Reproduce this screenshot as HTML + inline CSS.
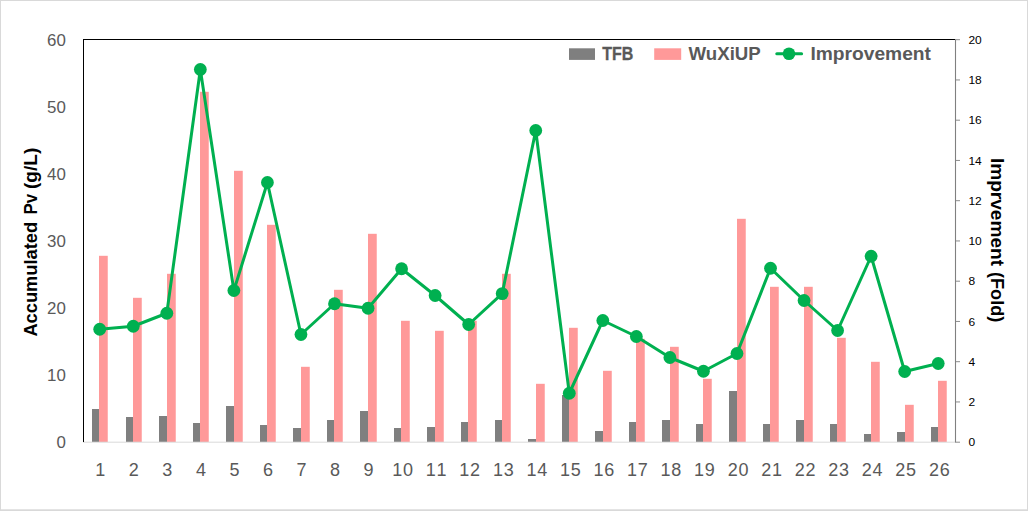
<!DOCTYPE html>
<html><head><meta charset="utf-8"><title>Chart</title>
<style>html,body{margin:0;padding:0;background:#fff;}body{width:1028px;height:511px;overflow:hidden;}svg{display:block;}text{font-family:"Liberation Sans",sans-serif;}</style></head><body>
<svg width="1028" height="511" viewBox="0 0 1028 511">
<rect x="0" y="0" width="1028" height="511" fill="#ffffff"/>
<rect x="0.5" y="0.5" width="1027" height="509.5" fill="none" stroke="#d9d9d9" stroke-width="1"/>
<rect x="0" y="509.6" width="1028" height="1.4" fill="#d9d9d9"/>
<rect x="92" y="409" width="7.5" height="33.0" fill="#7f7f7f"/>
<rect x="99" y="255.8" width="8.75" height="186.2" fill="#ff9999"/>
<rect x="126" y="417" width="7.5" height="25.0" fill="#7f7f7f"/>
<rect x="133" y="297.8" width="8.75" height="144.2" fill="#ff9999"/>
<rect x="159" y="416" width="8.5" height="26.0" fill="#7f7f7f"/>
<rect x="167" y="273.8" width="8.75" height="168.2" fill="#ff9999"/>
<rect x="193" y="423" width="7.5" height="19.0" fill="#7f7f7f"/>
<rect x="200" y="91.8" width="8.75" height="350.2" fill="#ff9999"/>
<rect x="226" y="406" width="8.5" height="36.0" fill="#7f7f7f"/>
<rect x="234" y="170.8" width="8.75" height="271.2" fill="#ff9999"/>
<rect x="260" y="425" width="7.5" height="17.0" fill="#7f7f7f"/>
<rect x="267" y="224.8" width="8.75" height="217.2" fill="#ff9999"/>
<rect x="293" y="428" width="8.5" height="14.0" fill="#7f7f7f"/>
<rect x="301" y="366.8" width="8.75" height="75.2" fill="#ff9999"/>
<rect x="327" y="420" width="7.5" height="22.0" fill="#7f7f7f"/>
<rect x="334" y="289.8" width="8.75" height="152.2" fill="#ff9999"/>
<rect x="360" y="411" width="8.5" height="31.0" fill="#7f7f7f"/>
<rect x="368" y="233.8" width="8.75" height="208.2" fill="#ff9999"/>
<rect x="394" y="428" width="7.5" height="14.0" fill="#7f7f7f"/>
<rect x="401" y="320.8" width="8.75" height="121.2" fill="#ff9999"/>
<rect x="427" y="427" width="8.5" height="15.0" fill="#7f7f7f"/>
<rect x="435" y="330.8" width="8.75" height="111.2" fill="#ff9999"/>
<rect x="461" y="422" width="7.5" height="20.0" fill="#7f7f7f"/>
<rect x="468" y="320.8" width="8.75" height="121.2" fill="#ff9999"/>
<rect x="495" y="420" width="7.5" height="22.0" fill="#7f7f7f"/>
<rect x="502" y="273.8" width="8.75" height="168.2" fill="#ff9999"/>
<rect x="528" y="439" width="8.5" height="3.0" fill="#7f7f7f"/>
<rect x="536" y="383.8" width="8.75" height="58.2" fill="#ff9999"/>
<rect x="562" y="395" width="7.5" height="47.0" fill="#7f7f7f"/>
<rect x="569" y="327.8" width="8.75" height="114.2" fill="#ff9999"/>
<rect x="595" y="431" width="8.5" height="11.0" fill="#7f7f7f"/>
<rect x="603" y="370.8" width="8.75" height="71.2" fill="#ff9999"/>
<rect x="629" y="422" width="7.5" height="20.0" fill="#7f7f7f"/>
<rect x="636" y="338.8" width="8.75" height="103.2" fill="#ff9999"/>
<rect x="662" y="420" width="8.5" height="22.0" fill="#7f7f7f"/>
<rect x="670" y="346.8" width="8.75" height="95.2" fill="#ff9999"/>
<rect x="696" y="424" width="7.5" height="18.0" fill="#7f7f7f"/>
<rect x="703" y="378.8" width="8.75" height="63.2" fill="#ff9999"/>
<rect x="729" y="391" width="8.5" height="51.0" fill="#7f7f7f"/>
<rect x="737" y="218.8" width="8.75" height="223.2" fill="#ff9999"/>
<rect x="763" y="424" width="7.5" height="18.0" fill="#7f7f7f"/>
<rect x="770" y="286.8" width="8.75" height="155.2" fill="#ff9999"/>
<rect x="796" y="420" width="8.5" height="22.0" fill="#7f7f7f"/>
<rect x="804" y="286.8" width="8.75" height="155.2" fill="#ff9999"/>
<rect x="830" y="424" width="7.5" height="18.0" fill="#7f7f7f"/>
<rect x="837" y="337.8" width="8.75" height="104.2" fill="#ff9999"/>
<rect x="864" y="434" width="7.5" height="8.0" fill="#7f7f7f"/>
<rect x="871" y="361.8" width="8.75" height="80.2" fill="#ff9999"/>
<rect x="897" y="432" width="8.5" height="10.0" fill="#7f7f7f"/>
<rect x="905" y="404.8" width="8.75" height="37.2" fill="#ff9999"/>
<rect x="931" y="427" width="7.5" height="15.0" fill="#7f7f7f"/>
<rect x="938" y="380.8" width="8.75" height="61.2" fill="#ff9999"/>
<line x1="83" y1="442.2" x2="955.5" y2="442.2" stroke="#d9d9d9" stroke-width="1"/>
<line x1="83.5" y1="39" x2="83.5" y2="442" stroke="#000" stroke-width="1"/>
<line x1="83" y1="39.5" x2="955" y2="39.5" stroke="#000" stroke-width="1"/>
<line x1="955.5" y1="39.2" x2="955.5" y2="442.6" stroke="#808080" stroke-width="1.1"/>
<line x1="955.5" y1="442.20" x2="960" y2="442.20" stroke="#808080" stroke-width="0.9"/>
<text transform="translate(968.4,446.40) scale(1.13,1)" font-size="10.6" fill="#000">0</text>
<line x1="955.5" y1="401.95" x2="960" y2="401.95" stroke="#808080" stroke-width="0.9"/>
<text transform="translate(968.4,406.15) scale(1.13,1)" font-size="10.6" fill="#000">2</text>
<line x1="955.5" y1="361.70" x2="960" y2="361.70" stroke="#808080" stroke-width="0.9"/>
<text transform="translate(968.4,365.90) scale(1.13,1)" font-size="10.6" fill="#000">4</text>
<line x1="955.5" y1="321.45" x2="960" y2="321.45" stroke="#808080" stroke-width="0.9"/>
<text transform="translate(968.4,325.65) scale(1.13,1)" font-size="10.6" fill="#000">6</text>
<line x1="955.5" y1="281.20" x2="960" y2="281.20" stroke="#808080" stroke-width="0.9"/>
<text transform="translate(968.4,285.40) scale(1.13,1)" font-size="10.6" fill="#000">8</text>
<line x1="955.5" y1="240.95" x2="960" y2="240.95" stroke="#808080" stroke-width="0.9"/>
<text transform="translate(968.4,245.15) scale(1.13,1)" font-size="10.6" fill="#000">10</text>
<line x1="955.5" y1="200.70" x2="960" y2="200.70" stroke="#808080" stroke-width="0.9"/>
<text transform="translate(968.4,204.90) scale(1.13,1)" font-size="10.6" fill="#000">12</text>
<line x1="955.5" y1="160.45" x2="960" y2="160.45" stroke="#808080" stroke-width="0.9"/>
<text transform="translate(968.4,164.65) scale(1.13,1)" font-size="10.6" fill="#000">14</text>
<line x1="955.5" y1="120.20" x2="960" y2="120.20" stroke="#808080" stroke-width="0.9"/>
<text transform="translate(968.4,124.40) scale(1.13,1)" font-size="10.6" fill="#000">16</text>
<line x1="955.5" y1="79.95" x2="960" y2="79.95" stroke="#808080" stroke-width="0.9"/>
<text transform="translate(968.4,84.15) scale(1.13,1)" font-size="10.6" fill="#000">18</text>
<line x1="955.5" y1="39.70" x2="960" y2="39.70" stroke="#808080" stroke-width="0.9"/>
<text transform="translate(968.4,43.90) scale(1.13,1)" font-size="10.6" fill="#000">20</text>
<text transform="translate(65.8,447.85) scale(1.03,1)" text-anchor="end" font-size="16.4" fill="#595959">0</text>
<text transform="translate(65.8,380.85) scale(1.03,1)" text-anchor="end" font-size="16.4" fill="#595959">10</text>
<text transform="translate(65.8,313.85) scale(1.03,1)" text-anchor="end" font-size="16.4" fill="#595959">20</text>
<text transform="translate(65.8,246.85) scale(1.03,1)" text-anchor="end" font-size="16.4" fill="#595959">30</text>
<text transform="translate(65.8,179.85) scale(1.03,1)" text-anchor="end" font-size="16.4" fill="#595959">40</text>
<text transform="translate(65.8,112.85) scale(1.03,1)" text-anchor="end" font-size="16.4" fill="#595959">50</text>
<text transform="translate(65.8,45.85) scale(1.03,1)" text-anchor="end" font-size="16.4" fill="#595959">60</text>
<text transform="translate(100.27,475.9) scale(1.0,1)" text-anchor="middle" font-size="18.0" fill="#595959">1</text>
<text transform="translate(133.81,475.9) scale(1.0,1)" text-anchor="middle" font-size="18.0" fill="#595959">2</text>
<text transform="translate(167.35,475.9) scale(1.0,1)" text-anchor="middle" font-size="18.0" fill="#595959">3</text>
<text transform="translate(200.89,475.9) scale(1.0,1)" text-anchor="middle" font-size="18.0" fill="#595959">4</text>
<text transform="translate(234.43,475.9) scale(1.0,1)" text-anchor="middle" font-size="18.0" fill="#595959">5</text>
<text transform="translate(267.97,475.9) scale(1.0,1)" text-anchor="middle" font-size="18.0" fill="#595959">6</text>
<text transform="translate(301.51,475.9) scale(1.0,1)" text-anchor="middle" font-size="18.0" fill="#595959">7</text>
<text transform="translate(335.05,475.9) scale(1.0,1)" text-anchor="middle" font-size="18.0" fill="#595959">8</text>
<text transform="translate(368.59,475.9) scale(1.0,1)" text-anchor="middle" font-size="18.0" fill="#595959">9</text>
<text transform="translate(397.26,475.9) scale(1.0,1)" text-anchor="middle" font-size="18.0" fill="#595959">1</text>
<text transform="translate(408.01,475.9) scale(1.0,1)" text-anchor="middle" font-size="18.0" fill="#595959">0</text>
<text transform="translate(430.80,475.9) scale(1.0,1)" text-anchor="middle" font-size="18.0" fill="#595959">1</text>
<text transform="translate(441.55,475.9) scale(1.0,1)" text-anchor="middle" font-size="18.0" fill="#595959">1</text>
<text transform="translate(464.33,475.9) scale(1.0,1)" text-anchor="middle" font-size="18.0" fill="#595959">1</text>
<text transform="translate(475.08,475.9) scale(1.0,1)" text-anchor="middle" font-size="18.0" fill="#595959">2</text>
<text transform="translate(497.88,475.9) scale(1.0,1)" text-anchor="middle" font-size="18.0" fill="#595959">1</text>
<text transform="translate(508.63,475.9) scale(1.0,1)" text-anchor="middle" font-size="18.0" fill="#595959">3</text>
<text transform="translate(531.41,475.9) scale(1.0,1)" text-anchor="middle" font-size="18.0" fill="#595959">1</text>
<text transform="translate(542.16,475.9) scale(1.0,1)" text-anchor="middle" font-size="18.0" fill="#595959">4</text>
<text transform="translate(564.95,475.9) scale(1.0,1)" text-anchor="middle" font-size="18.0" fill="#595959">1</text>
<text transform="translate(575.70,475.9) scale(1.0,1)" text-anchor="middle" font-size="18.0" fill="#595959">5</text>
<text transform="translate(598.49,475.9) scale(1.0,1)" text-anchor="middle" font-size="18.0" fill="#595959">1</text>
<text transform="translate(609.24,475.9) scale(1.0,1)" text-anchor="middle" font-size="18.0" fill="#595959">6</text>
<text transform="translate(632.03,475.9) scale(1.0,1)" text-anchor="middle" font-size="18.0" fill="#595959">1</text>
<text transform="translate(642.78,475.9) scale(1.0,1)" text-anchor="middle" font-size="18.0" fill="#595959">7</text>
<text transform="translate(665.57,475.9) scale(1.0,1)" text-anchor="middle" font-size="18.0" fill="#595959">1</text>
<text transform="translate(676.32,475.9) scale(1.0,1)" text-anchor="middle" font-size="18.0" fill="#595959">8</text>
<text transform="translate(699.12,475.9) scale(1.0,1)" text-anchor="middle" font-size="18.0" fill="#595959">1</text>
<text transform="translate(709.87,475.9) scale(1.0,1)" text-anchor="middle" font-size="18.0" fill="#595959">9</text>
<text transform="translate(732.65,475.9) scale(1.0,1)" text-anchor="middle" font-size="18.0" fill="#595959">2</text>
<text transform="translate(743.40,475.9) scale(1.0,1)" text-anchor="middle" font-size="18.0" fill="#595959">0</text>
<text transform="translate(766.19,475.9) scale(1.0,1)" text-anchor="middle" font-size="18.0" fill="#595959">2</text>
<text transform="translate(776.94,475.9) scale(1.0,1)" text-anchor="middle" font-size="18.0" fill="#595959">1</text>
<text transform="translate(799.74,475.9) scale(1.0,1)" text-anchor="middle" font-size="18.0" fill="#595959">2</text>
<text transform="translate(810.49,475.9) scale(1.0,1)" text-anchor="middle" font-size="18.0" fill="#595959">2</text>
<text transform="translate(833.27,475.9) scale(1.0,1)" text-anchor="middle" font-size="18.0" fill="#595959">2</text>
<text transform="translate(844.02,475.9) scale(1.0,1)" text-anchor="middle" font-size="18.0" fill="#595959">3</text>
<text transform="translate(866.81,475.9) scale(1.0,1)" text-anchor="middle" font-size="18.0" fill="#595959">2</text>
<text transform="translate(877.56,475.9) scale(1.0,1)" text-anchor="middle" font-size="18.0" fill="#595959">4</text>
<text transform="translate(900.36,475.9) scale(1.0,1)" text-anchor="middle" font-size="18.0" fill="#595959">2</text>
<text transform="translate(911.11,475.9) scale(1.0,1)" text-anchor="middle" font-size="18.0" fill="#595959">5</text>
<text transform="translate(933.89,475.9) scale(1.0,1)" text-anchor="middle" font-size="18.0" fill="#595959">2</text>
<text transform="translate(944.64,475.9) scale(1.0,1)" text-anchor="middle" font-size="18.0" fill="#595959">6</text>
<polyline points="99.72,329.25 133.26,326.25 166.80,313.25 200.34,69.5 233.88,290.5 267.42,182.5 300.96,334.5 334.50,303.75 368.04,308.25 401.58,268.75 435.12,295.5 468.66,324.5 502.20,293.6 535.74,130.5 569.28,393.25 602.82,320.5 636.36,336.5 669.90,357.5 703.44,371.25 736.98,353.5 770.52,268.25 804.06,300.5 837.60,330.5 871.14,256.25 904.68,371.5 938.22,363.5" fill="none" stroke="#00b050" stroke-width="3" stroke-linejoin="round" stroke-linecap="round"/>
<circle cx="99.72" cy="329.25" r="6.4" fill="#00b050"/>
<circle cx="133.26" cy="326.25" r="6.4" fill="#00b050"/>
<circle cx="166.80" cy="313.25" r="6.4" fill="#00b050"/>
<circle cx="200.34" cy="69.5" r="6.4" fill="#00b050"/>
<circle cx="233.88" cy="290.5" r="6.4" fill="#00b050"/>
<circle cx="267.42" cy="182.5" r="6.4" fill="#00b050"/>
<circle cx="300.96" cy="334.5" r="6.4" fill="#00b050"/>
<circle cx="334.50" cy="303.75" r="6.4" fill="#00b050"/>
<circle cx="368.04" cy="308.25" r="6.4" fill="#00b050"/>
<circle cx="401.58" cy="268.75" r="6.4" fill="#00b050"/>
<circle cx="435.12" cy="295.5" r="6.4" fill="#00b050"/>
<circle cx="468.66" cy="324.5" r="6.4" fill="#00b050"/>
<circle cx="502.20" cy="293.6" r="6.4" fill="#00b050"/>
<circle cx="535.74" cy="130.5" r="6.4" fill="#00b050"/>
<circle cx="569.28" cy="393.25" r="6.4" fill="#00b050"/>
<circle cx="602.82" cy="320.5" r="6.4" fill="#00b050"/>
<circle cx="636.36" cy="336.5" r="6.4" fill="#00b050"/>
<circle cx="669.90" cy="357.5" r="6.4" fill="#00b050"/>
<circle cx="703.44" cy="371.25" r="6.4" fill="#00b050"/>
<circle cx="736.98" cy="353.5" r="6.4" fill="#00b050"/>
<circle cx="770.52" cy="268.25" r="6.4" fill="#00b050"/>
<circle cx="804.06" cy="300.5" r="6.4" fill="#00b050"/>
<circle cx="837.60" cy="330.5" r="6.4" fill="#00b050"/>
<circle cx="871.14" cy="256.25" r="6.4" fill="#00b050"/>
<circle cx="904.68" cy="371.5" r="6.4" fill="#00b050"/>
<circle cx="938.22" cy="363.5" r="6.4" fill="#00b050"/>
<rect x="569" y="48.3" width="26" height="11.6" fill="#7f7f7f"/>
<text id="l1" transform="translate(602.3,59.8) scale(0.89,1)" font-size="18" font-weight="bold" fill="#595959" stroke="#595959" stroke-width="0.3">TFB</text>
<rect x="654.2" y="48.3" width="27" height="11.6" fill="#ff9999"/>
<text id="l2" transform="translate(688.5,59.9) scale(1.038,1)" font-size="18" font-weight="bold" fill="#595959">WuXiUP</text>
<line x1="776.8" y1="53.7" x2="801.6" y2="53.7" stroke="#00b050" stroke-width="3" stroke-linecap="round"/>
<circle cx="789" cy="53.7" r="6.3" fill="#00b050"/>
<text id="l3" transform="translate(810.4,60) scale(1.067,1)" font-size="18" font-weight="bold" fill="#595959">Improvement</text>
<text transform="translate(36.6,336.6) rotate(-90) scale(1.045,1)" font-size="17.5" font-weight="bold" fill="#000">Accumulated</text>
<text transform="translate(36.6,214.6) rotate(-90) scale(0.97,1)" font-size="17.5" font-weight="bold" fill="#000">Pv</text>
<text transform="translate(36.6,189.0) rotate(-90) scale(1.09,1)" font-size="17.5" font-weight="bold" fill="#000">(g/L)</text>
<text transform="translate(991.3,157.9) rotate(90) scale(1.091,1)" font-size="17.5" font-weight="bold" fill="#000">Imprvement</text>
<text transform="translate(991.3,272.0) rotate(90) scale(1.036,1)" font-size="17.5" font-weight="bold" fill="#000">(Fold)</text>
</svg></body></html>
